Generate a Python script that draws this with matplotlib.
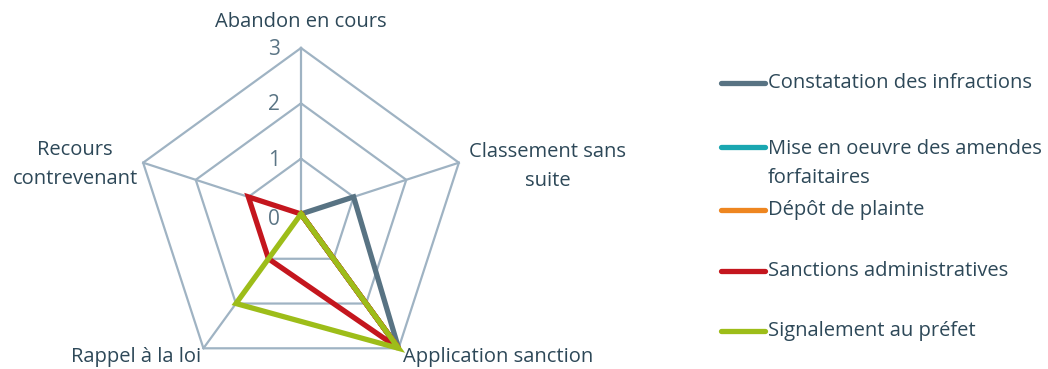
import numpy as np
import matplotlib
matplotlib.use("Agg")
import matplotlib.pyplot as plt
from matplotlib.lines import Line2D

categories = ["Abandon en cours", "Classement sans\nsuite", "Application sanction",
              "Rappel à la loi", "Recours\ncontrevenant"]
series_names = ["Constatation des infractions",
                "Mise en oeuvre des amendes\nforfaitaires",
                "Dépôt de plainte",
                "Sanctions administratives",
                "Signalement au préfet"]
constatation = [0, 1, 3, 0, 0]
amendes = [0, 0, 3, 0, 0]
plainte = [0, 0, 3, 0, 0]
sanctions = [0, 0, 3, 1, 1]
signalement = [0, 0, 3, 2, 0]
tick_values = [0, 1, 2, 3]

colors = ["#587383", "#1aa7b1", "#ee8620", "#c4161e", "#9dbd19"]
series = [constatation, amendes, plainte, sanctions, signalement]

plt.rcParams['font.family'] = ['Open Sans', 'DejaVu Sans']
text_color = "#2d4858"
grid_color = "#9fb3c3"
FS = 14.5

W, H = 1048, 369
fig = plt.figure(figsize=(W / 100, H / 100), dpi=100)
cx, cy, R = 301, 214, 166
ax = fig.add_axes([(cx - R) / W, (H - cy - R) / H, 2 * R / W, 2 * R / H], projection='polar')
ax.set_theta_offset(np.pi / 2)
ax.set_theta_direction(-1)
ax.set_ylim(0, 3)
ax.grid(False)
ax.spines['polar'].set_visible(False)
ax.set_xticks([])
ax.set_yticks([])
ax.patch.set_alpha(0)

n = len(categories)
angles = np.arange(n) * 2 * np.pi / n
closed = np.concatenate([angles, angles[:1]])

# polygon grid
for r in tick_values[1:]:
    ax.plot(closed, [r] * (n + 1), color=grid_color, lw=1.6, zorder=1, clip_on=False)
for a in angles:
    ax.plot([a, a], [0, tick_values[-1]], color=grid_color, lw=1.6, zorder=1, clip_on=False)

# tick labels
for r in tick_values:
    ax.annotate(str(r), xy=(0, r), xytext=(-15, -1 if r > 0 else -4), textcoords='offset points',
                ha='right', va='center', fontsize=15, color="#5b7585")

# series
for vals, c in zip(series, colors):
    v = list(vals) + [vals[0]]
    ax.plot(closed, v, color=c, lw=3.8, zorder=3, clip_on=False, solid_joinstyle='miter')

# category labels
label_offsets = [((0, 19), 'center', 'center'),
                 ((64, -2.5), 'center', 'center'),
                 ((3, -6), 'left', 'center'),
                 ((-2, -6), 'right', 'center'),
                 ((-49, -1.5), 'center', 'center')]
for a, lab, (off, ha, va) in zip(angles, categories, label_offsets):
    ax.annotate(lab, xy=(a, 3), xytext=off, textcoords='offset points', ha=ha, va=va,
                fontsize=FS, color=text_color, linespacing=1.6, annotation_clip=False)

# legend (manual layout)
legend_y = [83, 147, 210, 271, 331]
for name, c, y in zip(series_names, colors, legend_y):
    yf = (H - y) / H
    fig.add_artist(Line2D([721 / W, 765 / W], [yf, yf], color=c, lw=3.8,
                          solid_capstyle='round', transform=fig.transFigure))
    if '\n' in name:
        fig.text(768 / W, yf + 8 / H, name, ha='left', va='top',
                 fontsize=FS, color=text_color, linespacing=1.6)
    else:
        fig.text(768 / W, yf, name, ha='left', va='center',
                 fontsize=FS, color=text_color)

fig.savefig("out.png", dpi=100)
